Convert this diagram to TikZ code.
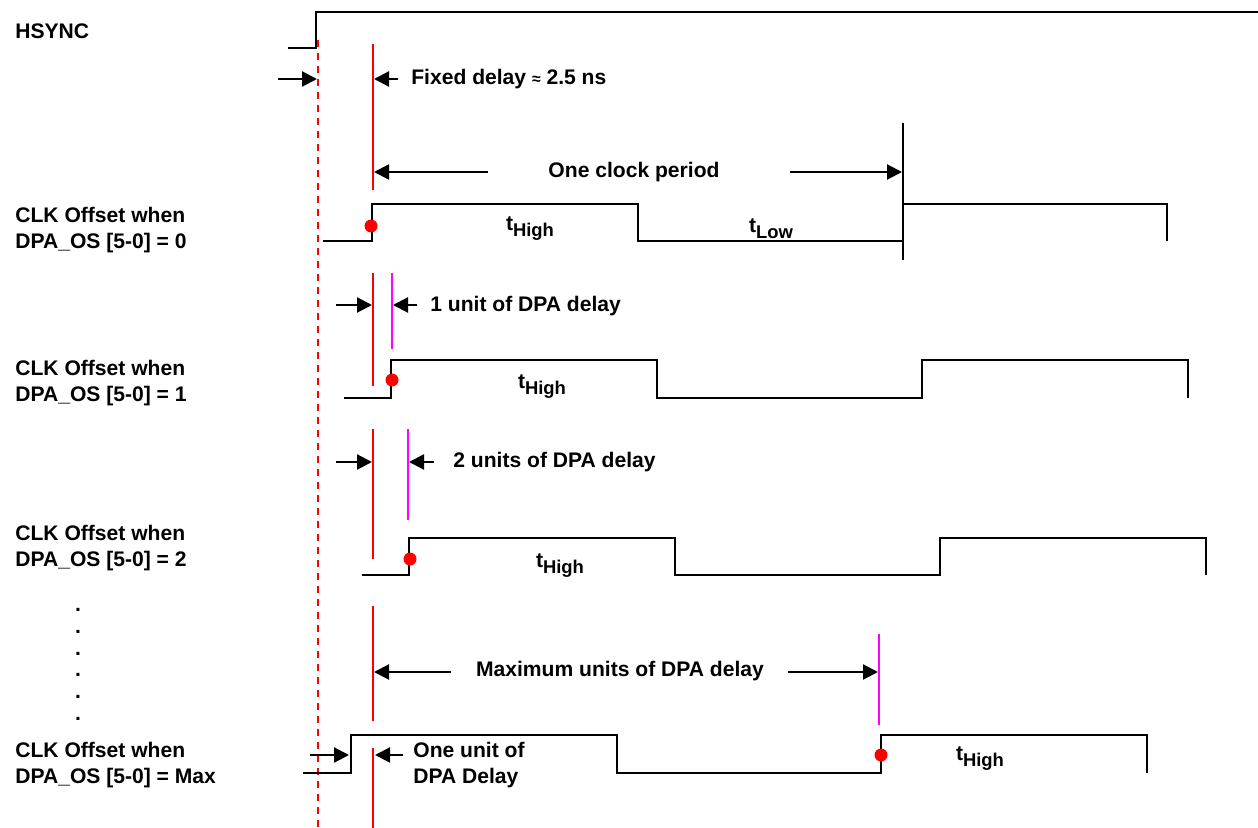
\documentclass[tikz,border=0pt]{standalone}
\usepackage{fontspec}
\setmainfont{Liberation Sans}
\usetikzlibrary{arrows.meta}

\definecolor{dpamag}{RGB}{255,0,255}
\definecolor{dpared}{RGB}{255,0,0}
\newcommand{\tsub}[1]{t\raisebox{-0.55ex}{\fontsize{10.5}{12}\selectfont #1}}

\begin{document}
\begin{tikzpicture}[x=0.02cm, y=-0.02cm,
    sig/.style={line width=1.25pt},
    redline/.style={dpared, line width=1.2pt},
    magline/.style={dpamag, line width=1.2pt},
    dim/.style={line width=1.25pt, -{Triangle[length=0.3cm, width=0.3cm]}},
    lbl/.style={font=\fontsize{12}{14.8}\selectfont\bfseries, inner sep=0pt, align=left},
    edge dot/.style={circle, fill=dpared, inner sep=0pt, minimum size=0.26cm}]
    \useasboundingbox (0,0) rectangle (1258,828);

    % HSYNC
    \node (hsync) at (15,31) [lbl, anchor=west] {HSYNC};
    \draw [sig] (288,48) -- (316,48) -- (316,12) -- (1258,12);
    \draw [dpared, line width=1.2pt, dash pattern=on 0.14cm off 0.12cm] (318,40) -- (318,828);

    % fixed delay
    \coordinate (hs) at (317,79);
    \coordinate (fd) at (374,79);
    \draw [redline] (373,44) -- (373,190);
    \draw [dim] (278,79) -- (hs);
    \node (fixtxt) at (411,79) [lbl, anchor=west] {Fixed delay {\fontsize{9}{9}\selectfont ≈} 2.5 ns};
    \draw [dim] (fixtxt.west) ++(-13,0) -- (fd);

    % one clock period
    \node (pertxt) at (634,172) [lbl] {One clock period};
    \coordinate (p0) at (374,172);
    \coordinate (p1) at (902,172);
    \draw [sig] (903,123) -- (903,260);
    \draw [dim] (488,172) -- (p0);
    \draw [dim] (790,172) -- (p1);

    % offset 0
    \node (os0) at (15,230) [lbl, anchor=west] {CLK Offset when\\DPA\_OS [5-0] = 0};
    \draw [sig] (323,241) -- (372,241) -- (372,204) -- (638,204) -- (638,241) -- (903,241) -- (903,204) -- (1167,204) -- (1167,241);
    \node (e0) at (371,226) [edge dot] {};
    \node (hi0) at (530,229) [lbl] {\tsub{High}};
    \node (lo0) at (771,229) [lbl] {\tsub{Low}};

    % offset 1
    \draw [redline] (373,273) -- (373,386);
    \draw [magline] (392,273) -- (392,349);
    \coordinate (a1) at (372,305);
    \coordinate (b1) at (393,305);
    \draw [dim] (336,305) -- (a1);
    \draw [dim] (417,305) -- (b1);
    \node (u1) at (430,306) [lbl, anchor=west] {1 unit of DPA delay};
    \node (os1) at (15,383) [lbl, anchor=west] {CLK Offset when\\DPA\_OS [5-0] = 1};
    \draw [sig] (344,398) -- (391,398) -- (391,360) -- (657,360) -- (657,398) -- (922,398) -- (922,360) -- (1188,360) -- (1188,398);
    \node (e1) at (392,380) [edge dot] {};
    \node (hi1) at (542,387) [lbl] {\tsub{High}};

    % offset 2
    \draw [redline] (373,429) -- (373,559);
    \draw [magline] (408,429) -- (408,520);
    \coordinate (a2) at (372,462);
    \coordinate (b2) at (409,462);
    \draw [dim] (336,462) -- (a2);
    \draw [dim] (434,462) -- (b2);
    \node (u2) at (453,462) [lbl, anchor=west] {2 units of DPA delay};
    \node (os2) at (15,548) [lbl, anchor=west] {CLK Offset when\\DPA\_OS [5-0] = 2};
    \draw [sig] (362,575) -- (409,575) -- (409,538) -- (675,538) -- (675,575) -- (940,575) -- (940,538) -- (1206,538) -- (1206,575);
    \node (e2) at (410,559) [edge dot] {};
    \node (hi2) at (560,566) [lbl] {\tsub{High}};

    % dots
    \foreach \i/\y in {1/610, 2/632, 3/654, 4/675, 5/697, 6/719}
        \node (dot\i) at (78,\y) [lbl] {.};

    % maximum offset
    \draw [redline] (373,606) -- (373,721);
    \draw [redline] (373,748) -- (373,828);
    \draw [magline] (879,634) -- (879,725);
    \node (umax) at (620,671) [lbl] {Maximum units of DPA delay};
    \coordinate (m0) at (374,672);
    \coordinate (m1) at (878,672);
    \draw [dim] (451,672) -- (m0);
    \draw [dim] (788,672) -- (m1);
    \node (osm) at (15,765) [lbl, anchor=west] {CLK Offset when\\DPA\_OS [5-0] = Max};
    \draw [sig] (303,773) -- (351,773) -- (351,735) -- (617,735) -- (617,773) -- (881,773) -- (881,735) -- (1147,735) -- (1147,773);
    \node (em) at (881,755) [edge dot] {};
    \node (him) at (980,759) [lbl] {\tsub{High}};
    \coordinate (c0) at (349,755);
    \coordinate (c1) at (375,755);
    \draw [dim] (310,755) -- (c0);
    \draw [dim] (403,755) -- (c1);
    \node (onetxt) at (413,765) [lbl, anchor=west] {One unit of\\DPA Delay};
\end{tikzpicture}
\end{document}
